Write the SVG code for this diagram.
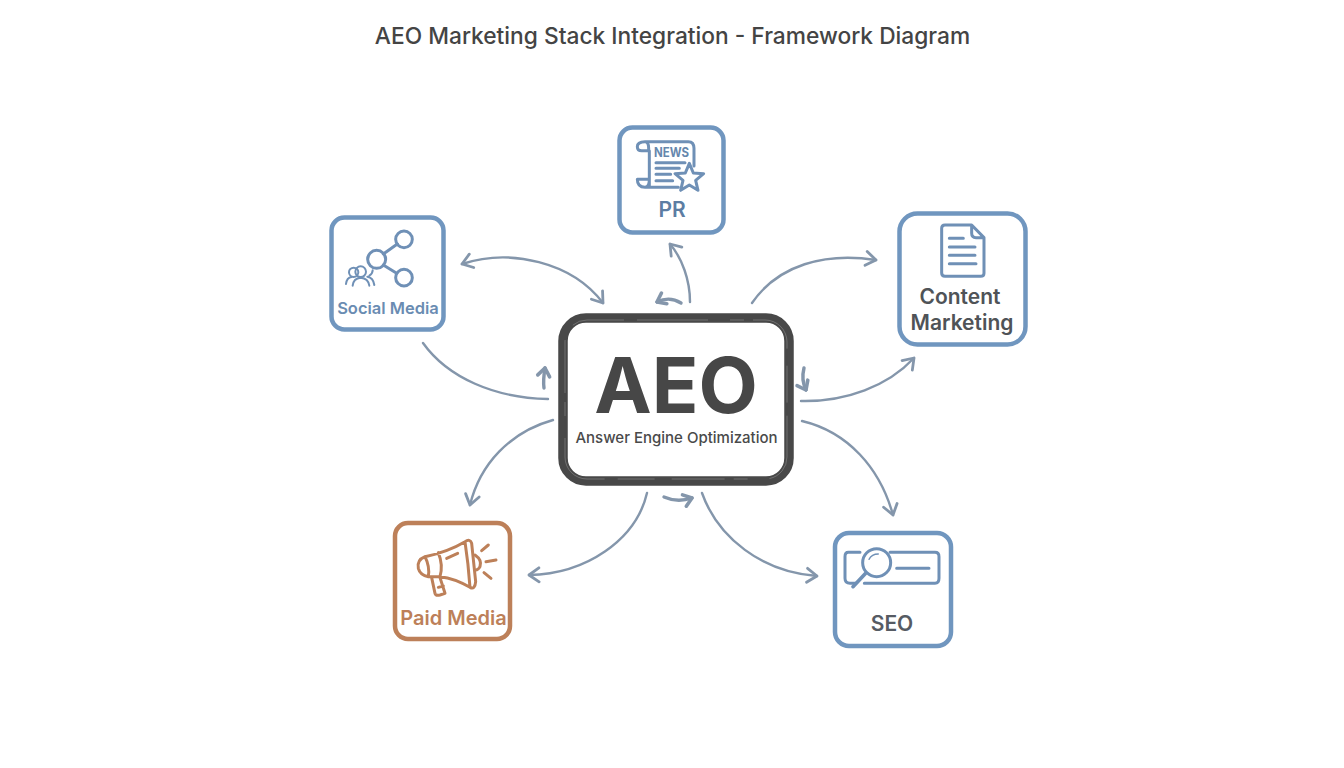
<svg xmlns="http://www.w3.org/2000/svg" width="1344" height="768" viewBox="0 0 1344 768">
<style>
text{font-family:"Inter","Noto Sans","Liberation Sans",sans-serif;text-anchor:middle}
.box{fill:#fff;stroke:#7096bf;stroke-width:4.500}
.ic{fill:none;stroke:#6f90b6;stroke-width:9;stroke-linecap:round;stroke-linejoin:round}
.or{stroke:#bd8059}
.ar{fill:none;stroke:#8496ab;stroke-width:2.400;stroke-linecap:round}
.sm{fill:none;stroke:#8496ab;stroke-width:3.400;stroke-linecap:round}
.sk{fill:none;stroke:#fff;stroke-opacity:.22;stroke-width:1;stroke-dasharray:37 13 71 22 14 9 53 17}
.lb{font-weight:600}
</style>
<defs>
<marker id="h" viewBox="-12 -9 14 18" markerWidth="14" markerHeight="18" refX="0" refY="0" orient="auto-start-reverse" markerUnits="userSpaceOnUse">
<path d="M-10-7 0 0-10 7" fill="none" stroke="#8496ab" stroke-width="2.800" stroke-linecap="round" stroke-linejoin="round"/>
</marker>
<marker id="s" viewBox="-12 -9 14 18" markerWidth="14" markerHeight="18" refX="0" refY="0" orient="auto" markerUnits="userSpaceOnUse">
<path d="M-8-6 0 0-8 6" fill="none" stroke="#8496ab" stroke-width="3.600" stroke-linecap="round" stroke-linejoin="round"/>
</marker>
</defs>
<rect width="1344" height="768" fill="#fff"/>
<text id="title" x="672.500" y="44" font-size="22.750" font-weight="500" fill="#444">AEO Marketing Stack Integration - Framework Diagram</text>
<g id="connectors">
<path class="ar" marker-end="url(#h)" d="M690 302C690 280 682 258 670 244"/>
<path class="sm" marker-end="url(#s)" d="M681 303C673 298 665 298 657 302"/>
<path class="ar" marker-start="url(#h)" marker-end="url(#h)" d="M462 264C510 248 572 262 603 303"/>
<path class="ar" d="M423 343C448 378 495 398 548 399"/>
<path class="sm" marker-end="url(#s)" d="M544 388C543 381 544 374 545 368"/>
<path class="ar" marker-end="url(#h)" d="M752 303C778 265 825 252 876 260"/>
<path class="ar" marker-end="url(#h)" d="M801 401C846 402 888 386 914 358"/>
<path class="sm" marker-end="url(#s)" d="M804 368C802 376 803 384 806 390"/>
<path class="ar" marker-end="url(#h)" d="M802 421C848 432 880 468 893 515"/>
<path class="ar" marker-end="url(#h)" d="M702 493C718 538 762 572 817 576"/>
<path class="sm" marker-end="url(#s)" d="M664 497C673 501 683 501 692 498"/>
<path class="ar" marker-end="url(#h)" d="M647 493C636 540 586 574 529 575"/>
<path class="ar" marker-end="url(#h)" d="M553 420C510 432 480 464 470 505"/>
</g>
<g id="node-aeo">
<rect x="563" y="318" width="226" height="163" rx="23" fill="#fff" stroke="#484848" stroke-width="9.500"/>
<rect class="sk" x="565" y="320" width="222" height="159" rx="22"/>
<text x="676" y="413" font-size="77" font-weight="700" fill="#474747">AEO</text>
<text x="676.500" y="443" font-size="15" font-weight="500" fill="#4a4a4a">Answer Engine Optimization</text>
</g>
<g id="node-pr">
<rect class="box" x="619.500" y="127.500" width="104" height="105" rx="13"/>
<g transform="translate(600 110) scale(.3333)">
<path class="ic" d="M135 95H265Q282 95 282 115V168M135 95Q112 95 112 110Q112 122 125 122H146M146 122V115Q146 95 135 95M148 122V232M112 208H148M112 208Q112 232 135 232H235M148 208Q148 232 135 232"/>
<path class="ic" d="M168 158H255M168 175H238M168 193H212M168 212H218"/>
<polygon class="ic" style="fill:#fff" points="268,160 280,189 311,191 287,211 294,241 268,225 242,241 249,211 225,191 256,189"/>
</g>
<text x="671.500" y="157" font-size="13" font-weight="700" fill="#6587ad" textLength="35" lengthAdjust="spacingAndGlyphs">NEWS</text>
<text x="672" y="217" font-size="21" font-weight="600" fill="#5c7da3">PR</text>
</g>
<g id="node-social">
<rect class="box" x="331.500" y="217.500" width="112" height="112" rx="13"/>
<g transform="translate(320 205) scale(.3333)">
<path class="ic" d="M190 147 232 117M190 180 230 205"/>
<circle class="ic" cx="170" cy="163" r="27"/><circle class="ic" cx="252" cy="103" r="25"/><circle class="ic" cx="252" cy="218" r="25"/>
<circle class="ic" style="stroke-width:6" cx="101" cy="202" r="14"/><circle class="ic" style="stroke-width:6" cx="122" cy="200" r="16"/>
<path class="ic" style="stroke-width:6" d="M78 237Q80 218 95 216M98 242Q100 220 122 218Q145 220 148 242M142 215Q160 218 163 240M148 212Q158 206 158 196"/>
</g>
<text class="lb" x="388" y="314" font-size="16.500" fill="#6a8cb2">Social Media</text>
</g>
<g id="node-content">
<rect class="box" x="899.500" y="213.500" width="126" height="131" rx="18"/>
<g transform="translate(890 205) scale(.3333)">
<path class="ic" d="M165 60H245L282 98V205Q282 214 272 214H165Q155 214 155 204V70Q155 60 165 60ZM245 60V85Q245 98 258 98H282"/>
<path class="ic" d="M178 100H220M178 126H255M178 151H255M178 176H258"/>
</g>
<text class="lb" x="960" y="304" font-size="21" fill="#4f5357">Content</text>
<text class="lb" x="962" y="330" font-size="21" fill="#4f5357">Marketing</text>
</g>
<g id="node-paid">
<rect class="box" style="stroke:#bd8059" x="395" y="523" width="115" height="116" rx="13"/>
<g transform="translate(385 510) scale(.3333)">
<path class="ic or" d="M120 140Q190 125 240 95Q255 85 260 100L272 215Q270 240 255 232Q210 205 165 200H130Q105 195 100 175Q95 150 120 140ZM120 140Q135 170 130 200M160 128Q175 165 165 200M240 95Q250 160 255 232M140 203 150 250Q152 258 165 255L180 250 165 203M160 232 175 228"/>
<path class="ic or" d="M270 135Q292 150 285 170Q280 180 272 180M290 122 310 105M303 155 333 150M297 188 318 205M185 145 218 130"/>
</g>
<text class="lb" x="453.500" y="625" font-size="20" fill="#bd8059">Paid Media</text>
</g>
<g id="node-seo">
<rect class="box" x="835" y="533" width="116" height="113" rx="14"/>
<g transform="translate(825 520) scale(.3333)">
<path class="ic" d="M105 97H70Q60 97 60 110V175Q60 190 75 190H92M195 97H330Q342 97 342 110V175Q342 190 330 190H118M215 145H312"/>
<circle class="ic" cx="155" cy="128" r="42"/>
<path class="ic" style="stroke-width:4" d="M132 118Q140 102 160 102"/>
<path class="ic" style="stroke-width:11" d="M122 160 84 200"/>
</g>
<text x="892" y="631" font-size="21" font-weight="600" fill="#565b63">SEO</text>
</g>
</svg>
